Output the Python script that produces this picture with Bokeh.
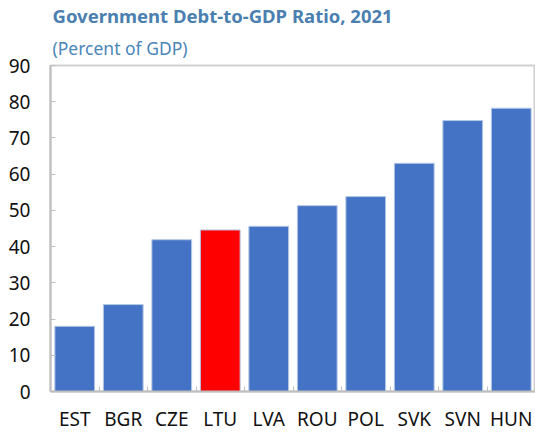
from bokeh.plotting import figure
from bokeh.models import FixedTicker, Title, Range1d, ColumnDataSource
from bokeh.embed import file_html
from bokeh.resources import INLINE

countries = ["EST", "BGR", "CZE", "LTU", "LVA", "ROU", "POL", "SVK", "SVN", "HUN"]
debt = [18.0, 24.0, 41.9, 44.6, 45.6, 51.3, 53.8, 63.0, 74.8, 78.2]
highlight = "LTU"
y_ticks = [0, 10, 20, 30, 40, 50, 60, 70, 80, 90]

FONT = "Noto Sans"
BLUE = "#4472C4"
RED = "#FF0000"

xpos = [i + 0.5 for i in range(len(countries))]
colors = [RED if c == highlight else BLUE for c in countries]
src = ColumnDataSource(dict(x=xpos, top=debt, color=colors, name=countries))

p = figure(width=535, height=434, output_backend="svg", toolbar_location=None,
           x_range=Range1d(0, len(countries)), y_range=Range1d(0, 90),
           min_border_left=50, min_border_right=0, min_border_bottom=42, min_border_top=6)

p.vbar(x="x", top="top", width=0.82, bottom=0, source=src, fill_color="color",
       line_color="#b4c7e7", line_width=1)

p.add_layout(Title(text="(Percent of GDP)", text_font=FONT, text_font_size="17.5px",
                   text_font_style="normal", text_color="#4a86b8", align="left",
                   offset=2, standoff=12), "above")
p.add_layout(Title(text="Government Debt-to-GDP Ratio, 2021", text_font=FONT,
                   text_font_size="18.5px", text_font_style="bold", text_color="#4a7fb0",
                   align="left", offset=2, standoff=0), "above")

p.xgrid.visible = False
p.ygrid.visible = False
p.outline_line_color = "#d0d0d0"
p.outline_line_width = 2

xa = p.xaxis[0]
xa.ticker = FixedTicker(ticks=xpos, minor_ticks=list(range(1, len(countries))))
xa.major_label_overrides = {x: c for x, c in zip(xpos, countries)}
xa.major_tick_line_color = None
xa.minor_tick_in = 5
xa.minor_tick_out = 0
xa.minor_tick_line_color = "#bfbfbf"
xa.axis_line_color = "#bfbfbf"
xa.axis_line_width = 2
xa.major_label_text_font = FONT
xa.major_label_text_font_size = "19px"
xa.major_label_text_color = "#111111"
xa.major_label_standoff = 8

ya = p.yaxis[0]
ya.ticker = FixedTicker(ticks=y_ticks)
ya.major_tick_in = 5
ya.major_tick_out = 0
ya.minor_tick_line_color = None
ya.major_tick_line_color = "#bfbfbf"
ya.axis_line_color = "#bfbfbf"
ya.axis_line_width = 2
ya.major_label_text_font = FONT
ya.major_label_text_font_size = "19px"
ya.major_label_text_color = "#111111"
ya.major_label_standoff = 20

open("out.html", "w").write(file_html(p, INLINE))
